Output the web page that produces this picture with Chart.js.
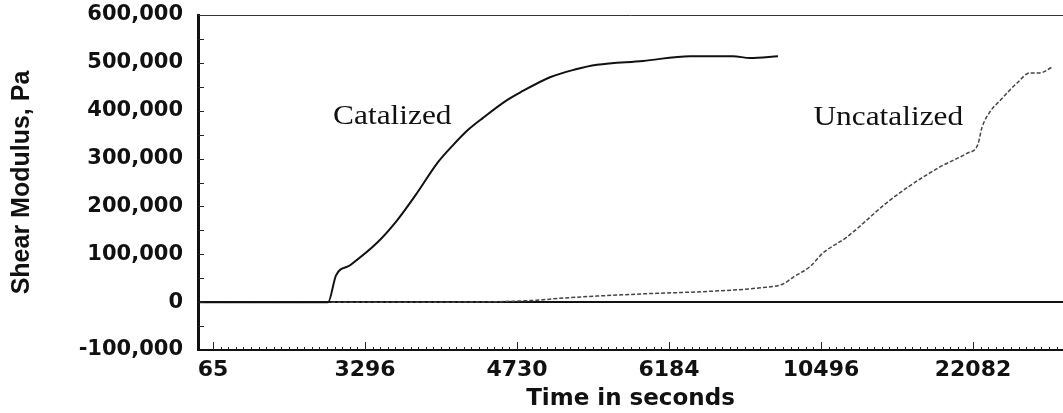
<!DOCTYPE html>
<html>
<head>
<meta charset="utf-8">
<script src="https://cdn.jsdelivr.net/npm/chart.js@4.4.0/dist/chart.umd.min.js"></script>
<style>
  html, body { margin: 0; padding: 0; background: #fff; }
  #wrap { width: 1063px; height: 413px; }
</style>
</head>
<body>
<div id="wrap"><canvas id="chart" width="1063" height="413"></canvas></div>
<script>
// x positions are in "tick label slots" (0 = first label, 1 = second, ...)
const xTickLabels = ['65', '3296', '4730', '6184', '10496', '22082'];
const xMin = -0.099, xMax = 5.592;
const yMin = -100000, yMax = 600000, yStep = 100000;

const catalizedX = [-0.09, 0.757, 0.809, 0.901, 1.079, 1.211, 1.342, 1.474, 1.579, 1.678, 1.776, 1.934, 2.02, 2.217, 2.38, 2.526, 2.829, 3.138, 3.421, 3.533, 3.717];
const catalizedY = [0, 0, 56000, 77000, 124000, 171000, 228000, 290000, 328000, 360000, 385000, 422000, 438000, 470000, 486000, 496000, 504000, 514000, 514000, 510000, 514000];

const uncatalizedX = [-0.09, 1.559, 2.13, 2.28, 2.81, 3.29, 3.60, 3.75, 3.816, 3.93, 4.01, 4.17, 4.43, 4.57, 4.78, 4.96, 5.03, 5.06, 5.11, 5.18, 5.29, 5.375, 5.44, 5.52];
const uncatalizedY = [0, 0, 4000, 8000, 17000, 23000, 30000, 38000, 52000, 75000, 102000, 136000, 207000, 240000, 282000, 311000, 328000, 366000, 397000, 422000, 458000, 479000, 479000, 491000];

const noteText = ['Catalized', 'Uncatalized'];
const noteX = [0.79, 3.95];
const noteY = [387000, 385000];

const toPoints = (xs, ys) => xs.map((x, i) => ({ x, y: ys[i] }));

// frame top line + inward tick marks + curve captions
const axisMarks = {
    id: 'axisMarks',
    afterDatasetsDraw(chart) {
        const { ctx, chartArea: a, scales: { x, y } } = chart;
        ctx.save();
        ctx.strokeStyle = '#333';
        ctx.lineWidth = 1;
        ctx.beginPath();
        ctx.moveTo(a.left, a.top + 0.5);
        ctx.lineTo(a.right, a.top + 0.5);
        ctx.stroke();

        ctx.strokeStyle = '#222';
        ctx.beginPath();
        for (let v = yMin + yStep / 2; v < yMax; v += yStep / 2) {
            const py = Math.round(y.getPixelForValue(v)) + 0.5;
            ctx.moveTo(a.left, py);
            ctx.lineTo(a.left + 6, py);
        }
        for (let i = 0; i * 0.05 <= xMax; i++) {
            const px = Math.round(x.getPixelForValue(i * 0.05)) + 0.5;
            const len = i % 20 === 0 ? 8 : 3;
            ctx.moveTo(px, a.bottom);
            ctx.lineTo(px, a.bottom - len);
        }
        ctx.stroke();

        ctx.fillStyle = '#111';
        ctx.font = '28px "Liberation Serif", "Times New Roman", serif';
        ctx.textBaseline = 'middle';
        ctx.textAlign = 'left';
        noteText.forEach((t, i) => {
            ctx.save();
            ctx.translate(x.getPixelForValue(noteX[i]), y.getPixelForValue(noteY[i]));
            ctx.scale(1.12, 1);
            ctx.fillText(t, 0, 0);
            ctx.restore();
        });
        ctx.restore();
    }
};

new Chart(document.getElementById('chart'), {
    type: 'line',
    data: {
        datasets: [
            {
                label: 'Catalized',
                data: toPoints(catalizedX, catalizedY),
                borderColor: '#111',
                borderWidth: 2,
                pointRadius: 0,
                cubicInterpolationMode: 'monotone',
            },
            {
                label: 'Uncatalized',
                data: toPoints(uncatalizedX, uncatalizedY),
                borderColor: '#444',
                borderWidth: 1.5,
                borderDash: [4, 2],
                pointRadius: 0,
                cubicInterpolationMode: 'monotone',
            },
        ],
    },
    options: {
        responsive: false,
        animation: false,
        layout: { padding: { top: 15, right: 0, left: 0, bottom: 0 } },
        plugins: {
            legend: { display: false },
            tooltip: { enabled: false },
        },
        scales: {
            x: {
                type: 'linear',
                min: xMin,
                max: xMax,
                afterBuildTicks: s => { s.ticks = xTickLabels.map((_, i) => ({ value: i })); },
                afterFit: s => { s.height = 63; s.paddingLeft = 0; s.paddingRight = 0; },
                ticks: {
                    autoSkip: false,
                    maxRotation: 0,
                    padding: 7,
                    color: '#111',
                    font: { family: "'DejaVu Sans', sans-serif", size: 22, weight: 'bold' },
                    callback: v => xTickLabels[v] ?? '',
                },
                grid: { display: false, drawTicks: false },
                border: { display: true, color: '#111', width: 2 },
                title: {
                    display: true,
                    text: 'Time in seconds',
                    color: '#111',
                    padding: { top: 0, bottom: 2 },
                    font: { family: "'DejaVu Sans', sans-serif", size: 23, weight: 'bold', lineHeight: 1 },
                },
            },
            y: {
                min: yMin,
                max: yMax,
                afterFit: s => { s.width = 198; s.paddingTop = 0; s.paddingBottom = 0; },
                ticks: {
                    stepSize: yStep,
                    padding: 15,
                    color: '#111',
                    font: { family: "'DejaVu Sans', sans-serif", size: 21, weight: 'bold' },
                    callback: v => v.toLocaleString('en-US'),
                },
                grid: {
                    drawTicks: false,
                    color: c => (c.tick && c.tick.value === 0 ? '#111' : 'rgba(0,0,0,0)'),
                    lineWidth: 2,
                },
                border: { display: true, color: '#111', width: 3 },
                title: {
                    display: true,
                    text: 'Shear Modulus, Pa',
                    color: '#111',
                    padding: { top: 7, bottom: 0 },
                    font: { family: "'Liberation Sans', Arial, sans-serif", size: 25, weight: 'bold' },
                },
            },
        },
    },
    plugins: [axisMarks],
});
</script>
</body>
</html>
